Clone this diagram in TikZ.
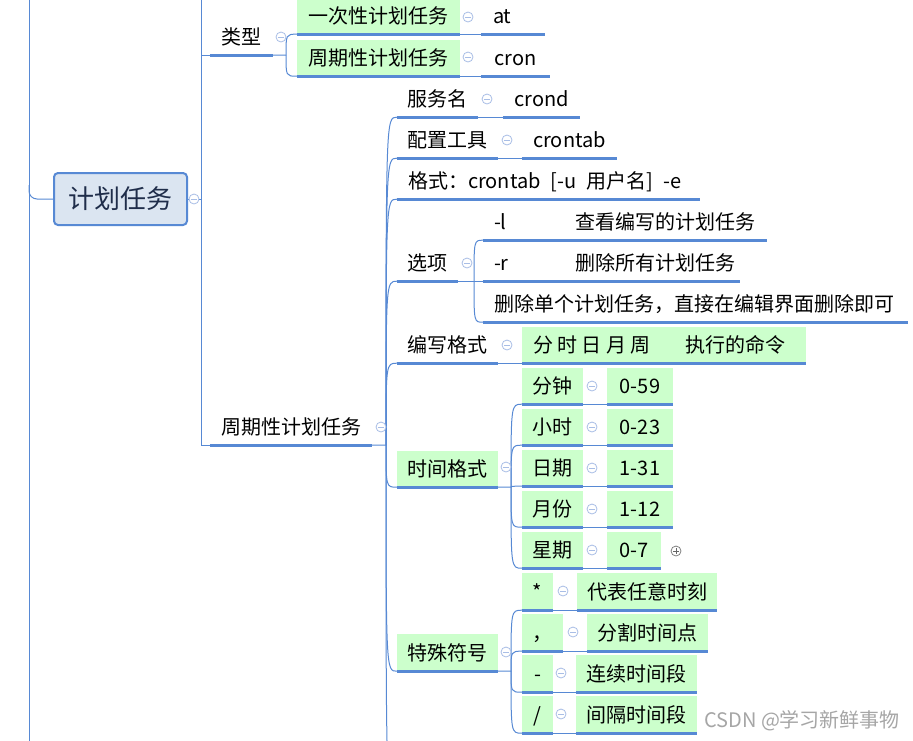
\documentclass[tikz,border=0pt]{standalone}
\usepackage{fontspec}
\setmainfont{Noto Sans CJK SC}
\definecolor{mmblue}{HTML}{5789D4}
\definecolor{mmgreen}{HTML}{CCFFCC}
\definecolor{rootfill}{HTML}{DBE5F1}
\definecolor{iconc}{HTML}{A9BEE6}
\definecolor{roottext}{HTML}{1F2D4A}
\definecolor{wmark}{HTML}{A6A6A6}
\newcommand\mmtopic[7]{%
  \pgfmathsetmacro\mmw{#5-#3}\pgfmathsetmacro\mmh{#6-#4}%
  \pgfmathsetmacro\mmcx{(#3+#5)/2}\pgfmathsetmacro\mmcy{(#4+#6)/2}%
  \node[#1, minimum width=\mmw pt, minimum height=\mmh pt] (#2) at (\mmcx,\mmcy) {#7};
  \draw[uline] (#2.south west) -- (#2.south east);}
\newcommand\mmbr[2]{\draw[conn] (#1) .. controls (#1 |- #2.south west) .. (#2.south west);}
\begin{document}
\begin{tikzpicture}[x=1pt,y=-1pt,
  topic/.style={inner sep=0pt, font=\fontsize{20}{24}\selectfont, text height=16.5pt, text depth=1.5pt, text=black},
  gtopic/.style={topic, fill=mmgreen},
  uline/.style={draw=mmblue, line width=3pt},
  conn/.style={draw=mmblue, line width=1pt},
  rootnode/.style={rounded corners=4pt, fill=rootfill, draw=mmblue, line width=2pt, minimum width=133pt, minimum height=52pt, inner sep=0pt, font=\fontsize{26}{30}\selectfont, text=roottext},
  fold/.style={circle, draw=iconc, fill=white, line width=0.8pt, minimum size=10pt, inner sep=0pt,
    path picture={\draw[iconc, line width=0.8pt] ([xshift=-3pt]path picture bounding box.center) -- ([xshift=3pt]path picture bounding box.center);}},
  unfold/.style={circle, draw=gray, fill=white, line width=0.8pt, minimum size=10pt, inner sep=0pt,
    path picture={\draw[gray!80!black, line width=0.8pt] ([xshift=-3pt]path picture bounding box.center) -- ([xshift=3pt]path picture bounding box.center) ([yshift=-3pt]path picture bounding box.center) -- ([yshift=3pt]path picture bounding box.center);}}
]
\useasboundingbox (0,0) rectangle (913,740);
\clip (0,0) rectangle (913,740);
\fill[white] (0,0) rectangle (913,740);

% left frame line and root
\coordinate (ltop) at (29,-10);
\coordinate (lbot) at (29,750);
\coordinate (lj) at (29,185);
\draw[conn] (ltop) -- (lbot);
\node[rootnode] (root) at (120.5,199) {计划任务};
\draw[conn, rounded corners=8pt] (lj) |- (root.west);

% level 1
\mmtopic{topic}{type}{210}{19}{273}{55}{类型}
\mmtopic{topic}{periodic}{210}{409}{372}{445}{周期性计划任务}
\coordinate (rj) at (201,199);
\coordinate (rtop) at (201,-10);
\draw[conn] (root.east) -- (rj);
\draw[conn] (rj) -- (rtop);
\draw[conn] (rj) |- (type.south west);
\draw[conn] (rj) |- (periodic.south west);

% type group
\mmtopic{gtopic}{once}{297}{-2}{460}{34}{一次性计划任务}
\mmtopic{gtopic}{peri}{297}{40}{460}{76}{周期性计划任务}
\mmtopic{topic}{at}{481}{-2}{545}{34}{\makebox[40pt][l]{at}}
\mmtopic{topic}{cron}{481}{40}{550}{76}{cron}
\coordinate (tj) at (286,55);
\draw[conn] (type.south east) -- (tj);
\mmbr{tj}{once}
\mmbr{tj}{peri}
\draw[conn] (once.south east) -- (at.south west);
\draw[conn] (peri.south east) -- (cron.south west);

% periodic group
\mmtopic{topic}{svc}{397}{81}{478}{117}{服务名}
\mmtopic{topic}{crond}{503}{81}{580}{117}{crond}
\mmtopic{topic}{tool}{397}{122}{498}{158}{配置工具}
\mmtopic{topic}{crontab}{522}{122}{617}{158}{crontab}
\mmtopic{topic}{fmt}{397}{163}{700}{199}{\makebox[281pt][l]{格式：crontab\enspace[-u\enspace 用户名]\enspace -e}}
\mmtopic{topic}{opt}{397}{245}{458}{281}{选项}
\mmtopic{topic}{optl}{483}{204}{767}{240}{\makebox[262pt][l]{\makebox[81pt][l]{-l}查看编写的计划任务}}
\mmtopic{topic}{optr}{483}{245}{740}{281}{\makebox[235pt][l]{\makebox[81pt][l]{-r}删除所有计划任务}}
\mmtopic{topic}{optd}{483}{286}{908}{322}{\makebox[403pt][l]{删除单个计划任务，直接在编辑界面删除即可}}
\mmtopic{topic}{write}{397}{327}{498}{363}{编写格式}
\mmtopic{gtopic}{fields}{522}{327}{806}{363}{\makebox[262pt][l]{分 时 日 月 周\hspace{35pt}执行的命令}}
\mmtopic{gtopic}{timefmt}{397}{451}{498}{487}{时间格式}
\mmtopic{gtopic}{spec}{397}{634}{498}{671}{特殊符号}

\coordinate (pj) at (386,445);
\coordinate (offb) at (397,800);
\draw[conn] (periodic.south east) -- (pj);
\mmbr{pj}{svc}
\mmbr{pj}{tool}
\mmbr{pj}{fmt}
\mmbr{pj}{opt}
\mmbr{pj}{write}
\mmbr{pj}{timefmt}
\mmbr{pj}{spec}
\draw[conn] (pj) .. controls (pj |- offb) .. (offb);
\draw[conn] (svc.south east) -- (crond.south west);
\draw[conn] (tool.south east) -- (crontab.south west);
\draw[conn] (write.south east) -- (fields.south west);

% options
\coordinate (oj) at (474,281);
\draw[conn] (opt.south east) -- (optr.south west);
\mmbr{oj}{optl}
\mmbr{oj}{optd}

% time format
\mmtopic{gtopic}{tmin}{522}{368}{583}{404}{分钟}
\mmtopic{gtopic}{vmin}{607}{368}{673}{404}{0-59}
\mmtopic{gtopic}{thour}{522}{409}{583}{445}{小时}
\mmtopic{gtopic}{vhour}{607}{409}{673}{445}{0-23}
\mmtopic{gtopic}{tday}{522}{450}{583}{486}{日期}
\mmtopic{gtopic}{vday}{607}{450}{673}{486}{1-31}
\mmtopic{gtopic}{tmon}{522}{491}{583}{527}{月份}
\mmtopic{gtopic}{vmon}{607}{491}{673}{527}{1-12}
\mmtopic{gtopic}{twk}{522}{532}{583}{568}{星期}
\mmtopic{gtopic}{vwk}{607}{532}{661}{568}{0-7}
\coordinate (tmj) at (511,487);
\draw[conn] (timefmt.south east) -- (tmj);
\mmbr{tmj}{tmin}
\mmbr{tmj}{thour}
\mmbr{tmj}{tday}
\mmbr{tmj}{tmon}
\mmbr{tmj}{twk}
\draw[conn] (tmin.south east) -- (vmin.south west);
\draw[conn] (thour.south east) -- (vhour.south west);
\draw[conn] (tday.south east) -- (vday.south west);
\draw[conn] (tmon.south east) -- (vmon.south west);
\draw[conn] (twk.south east) -- (vwk.south west);

% special symbols
\mmtopic{gtopic}{sstar}{522}{573}{553}{610}{*}
\mmtopic{gtopic}{dstar}{577}{573}{717}{610}{代表任意时刻}
\mmtopic{gtopic}{scomma}{522}{614}{563}{651}{，}
\mmtopic{gtopic}{dcomma}{587}{614}{708}{651}{分割时间点}
\mmtopic{gtopic}{sdash}{522}{655}{553}{692}{-}
\mmtopic{gtopic}{ddash}{576}{655}{697}{692}{连续时间段}
\mmtopic{gtopic}{sslash}{522}{696}{553}{733}{/}
\mmtopic{gtopic}{dslash}{576}{696}{697}{733}{间隔时间段}
\coordinate (sj) at (511,671);
\draw[conn] (spec.south east) -- (sj);
\mmbr{sj}{sstar}
\mmbr{sj}{scomma}
\mmbr{sj}{sdash}
\mmbr{sj}{sslash}
\draw[conn] (sstar.south east) -- (dstar.south west);
\draw[conn] (scomma.south east) -- (dcomma.south west);
\draw[conn] (sdash.south east) -- (ddash.south west);
\draw[conn] (sslash.south east) -- (dslash.south west);

% fold icons
\node[fold] (f0) at (194,199) {};
\node[fold] (f1) at (281,37) {};
\node[fold] (f2) at (468,17) {};
\node[fold] (f3) at (468,57) {};
\node[fold] (f4) at (381,427) {};
\node[fold] (f5) at (487,99) {};
\node[fold] (f6) at (507,140) {};
\node[fold] (f7) at (467,263) {};
\node[fold] (f8) at (507,345) {};
\node[fold] (f9) at (506,467) {};
\node[fold] (f10) at (592,386) {};
\node[fold] (f11) at (592,427) {};
\node[fold] (f12) at (592,468) {};
\node[fold] (f13) at (592,509) {};
\node[fold] (f14) at (592,550) {};
\node[unfold] (u1) at (676,551) {};
\node[fold] (f15) at (506,652) {};
\node[fold] (f16) at (563,591) {};
\node[fold] (f17) at (573,632) {};
\node[fold] (f18) at (561,673) {};
\node[fold] (f19) at (561,714) {};

% watermark
\node[anchor=west, inner sep=0pt, text=wmark, font=\fontsize{20}{24}\selectfont] (wm) at (704,721) {CSDN @学习新鲜事物};
\end{tikzpicture}
\end{document}
